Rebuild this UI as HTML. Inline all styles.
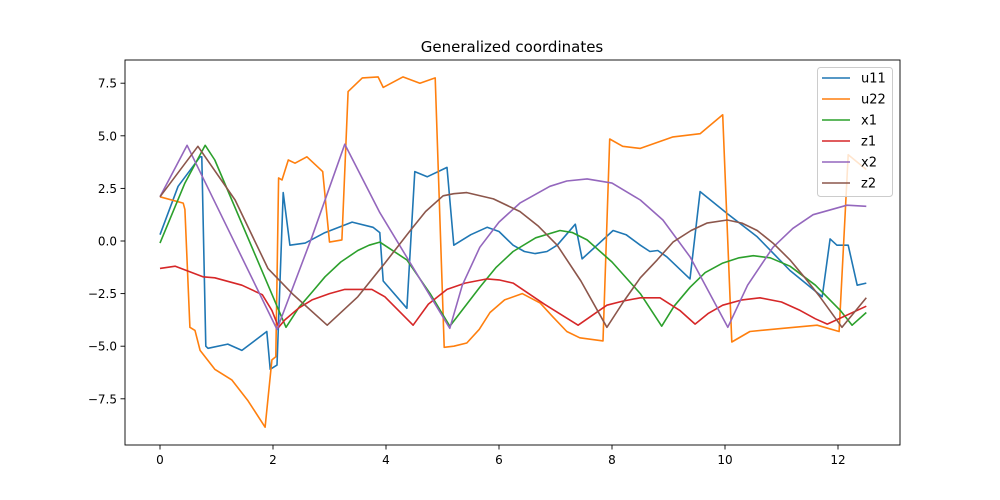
<!DOCTYPE html>
<html><head><meta charset="utf-8"><style>
html,body{margin:0;padding:0;background:#fff;}
svg{display:block;font-family:"DejaVu Sans","Liberation Sans",sans-serif;}
</style></head><body>
<svg id="chart" width="1000" height="500" viewBox="0 0 1000 500">
<rect width="1000" height="500" fill="#fff"/>
<text x="512" y="52" text-anchor="middle" font-size="15">Generalized coordinates</text>
<g id="plot"></g>
</svg>
<script>
const xTicks=[0,2,4,6,8,10,12];
const yTicks=[7.5,5.0,2.5,0.0,-2.5,-5.0,-7.5];
const yTickLabels=["7.5","5.0","2.5","0.0","−2.5","−5.0","−7.5"];
const seriesNames=["u11","u22","x1","z1","x2","z2"];
const u11T=[0,0.32,0.71,0.74,0.81,0.85,1.2,1.45,1.89,1.95,2.07,2.18,2.3,2.57,2.92,3.4,3.77,3.89,3.95,4.37,4.51,4.73,5.08,5.2,5.5,5.79,6.0,6.25,6.45,6.64,6.85,7.03,7.35,7.47,8.02,8.25,8.5,8.67,8.81,8.97,9.38,9.56,10.04,10.57,11.15,11.72,11.86,11.98,12.18,12.34,12.5];
const u11V=[0.3,2.6,4.0,4.0,-5.0,-5.1,-4.9,-5.2,-4.3,-6.1,-5.9,2.3,-0.2,-0.1,0.4,0.9,0.65,0.4,-1.9,-3.2,3.3,3.05,3.5,-0.2,0.3,0.65,0.45,-0.2,-0.5,-0.6,-0.5,-0.2,0.8,-0.85,0.5,0.3,-0.2,-0.5,-0.45,-0.75,-1.8,2.35,1.3,0.2,-1.4,-2.65,0.1,-0.2,-0.2,-2.1,-2.0];
const u22T=[0,0.41,0.44,0.53,0.62,0.71,0.97,1.27,1.56,1.86,1.98,2.05,2.1,2.16,2.27,2.39,2.6,2.88,3.0,3.22,3.33,3.58,3.86,3.95,4.3,4.6,4.87,5.03,5.2,5.43,5.65,5.84,6.1,6.41,6.73,6.95,7.2,7.43,7.84,7.96,8.19,8.5,9.08,9.56,9.96,10.12,10.44,11.03,11.63,12.02,12.18,12.5];
const u22V=[2.1,1.8,1.5,-4.1,-4.25,-5.2,-6.1,-6.6,-7.6,-8.85,-5.65,-5.5,3.0,2.9,3.85,3.7,4.0,3.3,-0.05,0.05,7.1,7.75,7.8,7.3,7.8,7.5,7.75,-5.05,-5.0,-4.85,-4.2,-3.4,-2.8,-2.5,-2.95,-3.6,-4.3,-4.6,-4.75,4.85,4.5,4.4,4.95,5.1,6.0,-4.8,-4.3,-4.15,-4.0,-4.3,4.1,3.4];
const x1T=[0,0.44,0.8,0.97,2.23,2.46,2.7,2.92,3.2,3.5,3.7,3.89,4.37,4.78,5.13,5.66,5.95,6.25,6.65,7.08,7.3,7.56,8.0,8.5,8.88,9.1,9.38,9.65,9.96,10.25,10.5,10.8,11.15,11.6,12.04,12.25,12.5];
const x1V=[-0.1,2.75,4.55,3.85,-4.1,-3.15,-2.4,-1.7,-1.0,-0.45,-0.2,-0.05,-0.9,-2.5,-4.05,-2.2,-1.25,-0.5,0.15,0.5,0.4,0.05,-1.0,-2.5,-4.05,-3.1,-2.2,-1.5,-1.05,-0.8,-0.7,-0.8,-1.2,-2.1,-3.3,-4.0,-3.4];
const z1T=[0,0.27,0.76,0.97,1.45,1.81,1.98,2.1,2.21,2.45,2.69,3.0,3.27,3.75,3.98,4.48,4.75,5.08,5.4,5.79,6.0,6.25,6.8,7.4,7.91,8.2,8.5,8.85,9.2,9.47,9.7,9.96,10.3,10.62,11.0,11.33,11.6,11.81,12.5];
const z1V=[-1.3,-1.2,-1.7,-1.75,-2.1,-2.55,-3.3,-4.1,-3.75,-3.2,-2.8,-2.5,-2.3,-2.3,-2.65,-4.0,-3.0,-2.3,-2.0,-1.8,-1.85,-2.0,-3.0,-4.0,-3.05,-2.85,-2.7,-2.7,-3.3,-3.95,-3.45,-3.05,-2.8,-2.7,-2.9,-3.3,-3.7,-3.95,-3.1];
const x2T=[0,0.48,1.27,2.07,2.69,3.27,3.89,5.13,5.35,5.66,6.0,6.37,6.9,7.2,7.56,8.0,8.5,8.9,9.38,10.05,10.4,10.85,11.2,11.56,12.16,12.5];
const x2V=[2.1,4.55,0.2,-4.2,0.2,4.6,1.35,-4.15,-2.1,-0.3,0.9,1.8,2.6,2.85,2.95,2.75,1.95,1.0,-0.75,-4.1,-2.1,-0.3,0.6,1.25,1.7,1.65];
const z2T=[0,0.67,1.33,1.91,2.34,2.96,3.5,3.98,4.43,4.7,5.01,5.2,5.43,5.9,6.37,6.7,7.03,7.45,7.91,8.2,8.5,8.8,9.08,9.4,9.68,10.04,10.3,10.57,10.85,11.15,11.4,11.68,12.07,12.5];
const z2V=[2.1,4.5,1.95,-1.3,-2.5,-4.0,-2.65,-1.05,0.5,1.4,2.15,2.25,2.3,2.0,1.4,0.7,-0.2,-1.9,-4.1,-2.9,-1.75,-0.9,-0.05,0.5,0.85,1.0,0.85,0.5,-0.1,-0.9,-1.7,-2.65,-4.1,-2.7];

const colors=["#1f77b4","#ff7f0e","#2ca02c","#d62728","#9467bd","#8c564b"];
const allT=[u11T,u22T,x1T,z1T,x2T,z2T];
const allV=[u11V,u22V,x1V,z1V,x2V,z2V];
const L=125,R=900,T=60,B=445;
function sx(t){return 160+t*56.5;}
function sy(v){return 241-v*21.04;}
const NS="http://www.w3.org/2000/svg";
const g=document.getElementById('plot');
function mk(tag,attrs,parent){const e=document.createElementNS(NS,tag);for(const k in attrs)e.setAttribute(k,attrs[k]);(parent||g).appendChild(e);return e;}
const defs=mk('defs',{});
const cp=mk('clipPath',{id:'clip'},defs);
mk('rect',{x:L,y:T,width:R-L,height:B-T},cp);
for(let s=0;s<6;s++){
  const pts=allT[s].map((t,i)=>sx(t).toFixed(1)+','+sy(allV[s][i]).toFixed(1)).join(' ');
  const p=mk('polyline',{points:pts,fill:'none',stroke:colors[s],'stroke-width':1.6,'stroke-linejoin':'round','clip-path':'url(#clip)'});
  
  
}
const frame=mk('rect',{x:L,y:T,width:R-L,height:B-T,fill:'none',stroke:'#000','stroke-width':0.9});


xTicks.forEach(t=>{
  const x=sx(t);
  const tk=mk('line',{x1:x,y1:B,x2:x,y2:B+4.5,stroke:'#000','stroke-width':0.9});
  
  
  const lb=mk('text',{x:x,y:B+19,'text-anchor':'middle','font-size':12});
  lb.textContent=String(t);
  
  
});
yTicks.forEach((v,i)=>{
  const y=sy(v);
  const tk=mk('line',{x1:L-4.5,y1:y,x2:L,y2:y,stroke:'#000','stroke-width':0.9});
  
  
  const lb=mk('text',{x:L-8,y:y+4.5,'text-anchor':'end','font-size':12});
  lb.textContent=yTickLabels[i];
  
  
});
const lg=mk('g',{});


mk('rect',{x:817.5,y:67.5,width:75,height:129,rx:3,fill:'#fff','fill-opacity':0.8,stroke:'#ccc','stroke-width':1},lg);
seriesNames.forEach((n,i)=>{
  const y=78+i*21;
  const e=mk('g',{},lg);
  
  
  mk('line',{x1:822,y1:y,x2:850,y2:y,stroke:colors[i],'stroke-width':1.6},e);
  const t=mk('text',{x:861,y:y+4.5,'font-size':13},e);
  t.textContent=n;
});
</script>
</body></html>
